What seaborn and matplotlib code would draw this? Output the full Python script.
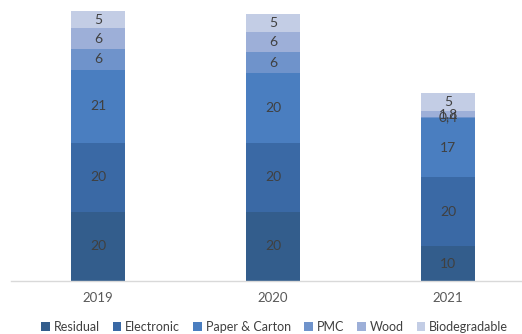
import matplotlib
matplotlib.use("Agg")
import matplotlib.pyplot as plt
import seaborn as sns
import numpy as np
from matplotlib.patches import Patch

years = ["2019", "2020", "2021"]
series = ["Residual", "Electronic", "Paper & Carton", "PMC", "Wood", "Biodegradable"]
residual = [20, 20, 10]
electronic = [20, 20, 20]
paper = [21, 20, 17]
pmc = [6, 6, 0.4]
wood = [6, 6, 1.8]
biodegradable = [5, 5, 5]
values = [residual, electronic, paper, pmc, wood, biodegradable]
colors = ["#335d8c", "#3a69a5", "#4a7ec0", "#6f93cb", "#9dafd8", "#c3cde5"]

sns.set_theme(style="white")
plt.rcParams['font.family'] = ['Lato', 'DejaVu Sans']

fig = plt.figure(figsize=(5.22, 3.34), dpi=100)
ax = fig.add_axes([10.5/522, (334-281)/334, (522-10.5)/522, 277/334])

def fmt(v):
    if float(v).is_integer():
        return str(int(v))
    return str(v).replace(".", ",")

bottom = np.zeros(len(years))
for name, vals, c in zip(series, values, colors):
    sns.barplot(x=years, y=vals, bottom=bottom, color=c, width=0.314,
                ax=ax, saturation=1, edgecolor="none", linewidth=0)
    for i, v in enumerate(vals):
        ax.text(i, bottom[i] + v / 2, fmt(v), ha="center", va="center",
                fontsize=10, color="#404040")
    bottom = bottom + np.array(vals)

ax.set_xlim(-0.5, 2.5 - 13.5/175)
ax.set_ylim(0, 80)
ax.set_yticks([])
for s in ["top", "right", "left"]:
    ax.spines[s].set_visible(False)
ax.spines["bottom"].set_color("#d9d9d9")
ax.spines["bottom"].set_linewidth(1)
ax.tick_params(axis="x", length=0, labelsize=9.5, colors="#595959", pad=8)
ax.set_xlabel("")
ax.set_ylabel("")

handles = [Patch(facecolor=c, edgecolor="none", label=n) for n, c in zip(series, colors)]
fig.legend(handles=handles, loc="center", bbox_to_anchor=(0.526, 0.022), ncol=6,
           frameon=False, fontsize=9, handlelength=0.7, handleheight=0.7,
           handletextpad=0.3, columnspacing=1.05, labelcolor="#404040")

fig.savefig("out.png", dpi=100)
